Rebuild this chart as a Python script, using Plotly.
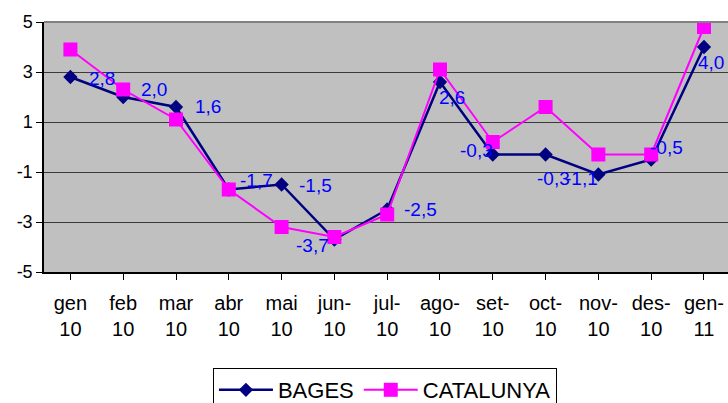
import plotly.graph_objects as go

categories = ["gen<br>10", "feb<br>10", "mar<br>10", "abr<br>10", "mai<br>10", "jun-<br>10",
              "jul-<br>10", "ago-<br>10", "set-<br>10", "oct-<br>10", "nov-<br>10", "des-<br>10", "gen-<br>11"]
bages = [2.8, 2.0, 1.6, -1.7, -1.5, -3.7, -2.5, 2.6, -0.3, -0.3, -1.1, -0.5, 4.0]
catalunya = [3.9, 2.3, 1.1, -1.7, -3.2, -3.6, -2.7, 3.1, 0.2, 1.6, -0.3, -0.3, 4.8]
y_ticks = [-5, -3, -1, 1, 3, 5]

# label offsets (pixels) for BAGES data labels
label_dx = [32, 31, 32, 28, 34, -22, 33, 12, -16, 8, -17, 15, 7]
label_dy = [-1, 8, 1, 9, -1, -6, 0, -15, 4, -24, -4, 12, -15]

FONT = "Liberation Sans, Arial, sans-serif"

fig = go.Figure()
fig.add_trace(go.Scatter(
    x=list(range(len(categories))), y=bages, name="BAGES", mode="lines+markers",
    line=dict(color="#000080", width=2.5),
    marker=dict(symbol="diamond", size=11, color="#000080"),
))
fig.add_trace(go.Scatter(
    x=list(range(len(categories))), y=catalunya, name="CATALUNYA", mode="lines+markers",
    line=dict(color="#FF00FF", width=2),
    marker=dict(symbol="square", size=14, color="#FF00FF"),
))

for i, v in enumerate(bages):
    fig.add_annotation(
        x=i, y=v, text=f"{v:.1f}".replace(".", ","), showarrow=False,
        xshift=label_dx[i], yshift=label_dy[i],
        font=dict(family=FONT, size=19, color="#0000FF"),
    )

fig.add_shape(type="line", xref="paper", yref="paper", x0=0, x1=1, y0=1, y1=1,
              line=dict(color="#808080", width=2))

fig.update_layout(
    width=728, height=403,
    margin=dict(l=44, r=0, t=21.5, b=130.7, autoexpand=False),
    paper_bgcolor="white", plot_bgcolor="#C0C0C0",
    font=dict(family=FONT, color="black"),
    showlegend=True,
    legend=dict(
        orientation="h", x=0.247, xanchor="left", y=-0.384, yanchor="top",
        bgcolor="white", bordercolor="black", borderwidth=1,
        font=dict(family=FONT, size=22, color="black"),
        itemclick=False, itemwidth=54,
    ),
    xaxis=dict(
        tickmode="array", tickvals=list(range(len(categories))), ticktext=categories,
        range=[-0.5, 12.455], showgrid=False, zeroline=False, automargin=False,
        showline=True, linecolor="black", linewidth=1.5,
        ticks="outside", ticklen=6, tickcolor="black", tickson="boundaries",
        tickfont=dict(family=FONT, size=20, color="black"),
        ticklabelstandoff=6,
    ),
    yaxis=dict(
        range=[-5, 5], tickmode="array", tickvals=y_ticks, automargin=False,
        ticktext=[str(t) for t in y_ticks],
        showgrid=True, gridcolor="#3a3a3a", gridwidth=1.2, zeroline=False,
        showline=True, linecolor="black", linewidth=1.5,
        ticks="outside", ticklen=6, tickcolor="black",
        tickfont=dict(family=FONT, size=18, color="black"),
    ),
)

fig.write_html("out.html", config={"displayModeBar": False},
               post_script="document.body.style.margin='0';document.body.style.overflow='hidden';")
